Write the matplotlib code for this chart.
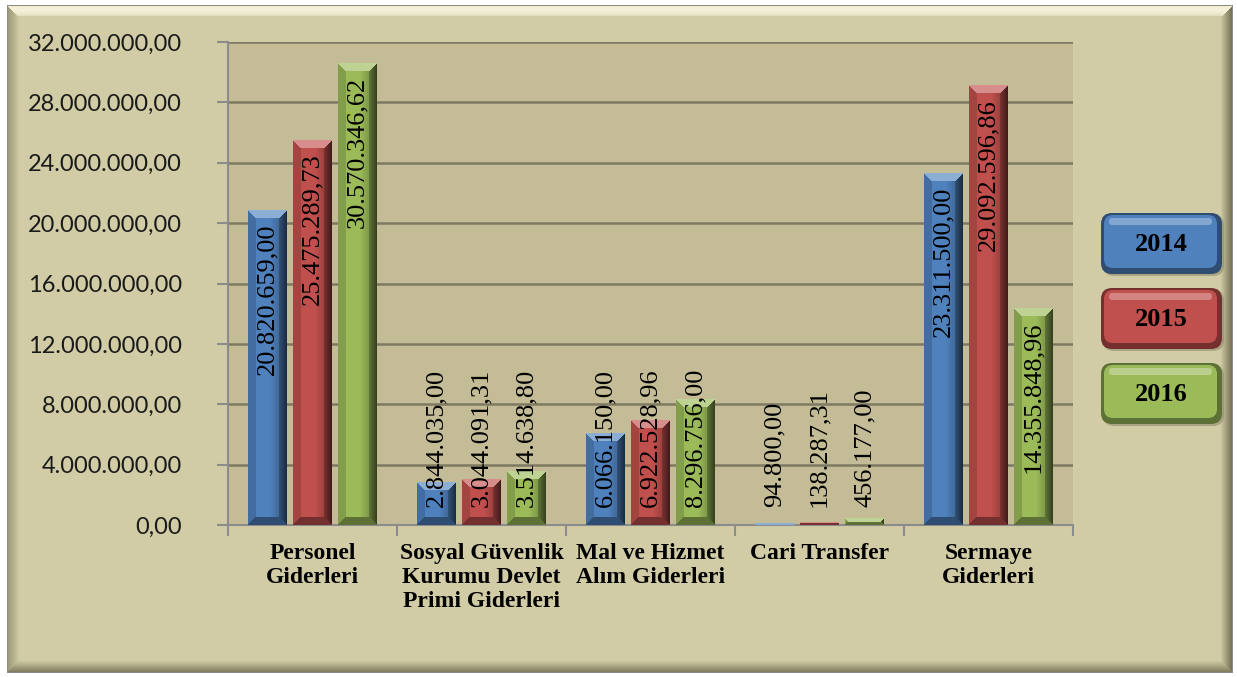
import numpy as np
import matplotlib.pyplot as plt
from matplotlib.patches import FancyBboxPatch
from matplotlib.transforms import IdentityTransform
from matplotlib.colors import to_rgb

categories = ['Personel\nGiderleri', 'Sosyal Güvenlik\nKurumu Devlet\nPrimi Giderleri',
              'Mal ve Hizmet\nAlım Giderleri', 'Cari Transfer', 'Sermaye\nGiderleri']
years = ['2014', '2015', '2016']
v2014 = [20820659.00, 2844035.00, 6066150.00, 94800.00, 23311500.00]
v2015 = [25475289.73, 3044091.31, 6922528.96, 138287.31, 29092596.86]
v2016 = [30570346.62, 3514638.80, 8296756.00, 456177.00, 14355848.96]
colors = ['#4F81BD', '#C0504D', '#9BBB59']

W, H = 1237, 677
YMAX = 32e6


def tr_fmt(v):
    s = f'{v:,.2f}'
    return s.replace(',', 'X').replace('.', ',').replace('X', '.')


def facets(w, h):
    ii, jj = np.mgrid[0:h, 0:w]
    d = np.stack([ii, h - 1 - ii, jj, w - 1 - jj])
    return ii, jj, d.min(axis=0), d.argmin(axis=0)


def bevel_img(color, w, h, b=8):
    # bar face with simple bevel facets
    base = np.array(to_rgb(color))
    h = max(h, 1)
    ii, jj, m, facet = facets(w, h)
    img = np.tile(base, (h, w, 1))
    ramp = np.clip((jj / w - 0.55) / 0.45, 0, 1) * 0.35
    img = img * (1 - ramp[..., None])
    edge = m < b
    top = edge & (facet == 0)
    bot = edge & (facet == 1)
    lef = edge & (facet == 2)
    rig = edge & (facet == 3)
    img[top] = base + (1 - base) * 0.35
    img[bot] = base * 0.6
    img[lef] = base * 0.85
    img[rig] = (base * (0.35 + 0.3 * (m[..., None] / b)))[rig]
    return np.clip(img, 0, 1)


def frame_img(w, h, b=12):
    # beveled background panel
    base = np.array(to_rgb('#D1CCA5'))
    ii, jj, m, facet = facets(w, h)
    img = np.tile(base, (h, w, 1))
    t = np.clip(m / b, 0, 1)[..., None]
    tops = np.array(to_rgb('#F4F1D8'))
    left = np.array(to_rgb('#9A9678'))
    right = np.array(to_rgb('#6F6B53'))
    bott = np.array(to_rgb('#7C785C'))
    edge = m < b
    for k, c in enumerate([tops, bott, left, right]):
        sel = edge & (facet == k)
        if k == 0:
            prof = np.sin(np.pi * (0.25 + 0.75 * t)) ** 0.7
            mix = c * prof + base * (1 - prof)
            mix = np.where(t > 0.85, base, mix)
        else:
            mix = c * (1 - t) + base * t
        img[sel] = mix[sel]
    img[m == 0] = to_rgb('#8A8A8A')
    return np.clip(img, 0, 1)


fig = plt.figure(figsize=(W / 100, H / 100), dpi=100)
fig.patch.set_facecolor('white')

fx0, fy0, fx1, fy1 = 7, 5, 1233, 673
fig.figimage(frame_img(fx1 - fx0, fy1 - fy0), xo=fx0, yo=H - fy1, origin='upper', zorder=-10)


def P(x, y):
    return (x, H - y)


tr = IdentityTransform()

L, R, T, B = 228, 1073, 42, 525
ax = fig.add_axes([L / W, 1 - B / H, (R - L) / W, (B - T) / H])
ax.set_zorder(1)
ax.set_facecolor('#C4BC96')

x = np.arange(len(categories))
width = 0.23
offsets = [-0.266, 0, 0.266]
px_per_val = (B - T) / YMAX
bar_w_px = int(round(width * (R - L) / 5))

for vals, col, off in zip([v2014, v2015, v2016], colors, offsets):
    bars = ax.bar(x + off, vals, width, color=col, edgecolor='none', zorder=3)
    for rect, v in zip(bars, vals):
        h_px = int(round(v * px_per_val))
        img = bevel_img(col, bar_w_px, h_px)
        ax.imshow(img, extent=(rect.get_x(), rect.get_x() + rect.get_width(), 0, v),
                  aspect='auto', origin='upper', interpolation='nearest', zorder=3.5)
        lab = tr_fmt(v)
        need = (13 + 18 + len(lab) * 11.8) / px_per_val
        if v >= need:
            ax.text(rect.get_x() + rect.get_width() / 2, v - 13 / px_per_val, lab,
                    rotation=90, ha='center', va='top', fontsize=19,
                    family='Liberation Serif', color='black', zorder=5)
        else:
            ax.text(rect.get_x() + rect.get_width() / 2, 18 / px_per_val, lab,
                    rotation=90, ha='center', va='bottom', fontsize=19,
                    family='Liberation Serif', color='black', zorder=5)

ax.set_aspect('auto')
ax.set_xlim(-0.5, 4.5)
ax.set_ylim(0, YMAX)

yt = np.arange(0, YMAX + 1, 4e6)
ax.set_yticks(yt)
ax.set_yticklabels([tr_fmt(v) for v in yt], family='Lato', fontsize=17, color='#1A1A1A')
ax.yaxis.grid(True, color='#7E7962', lw=1.8, zorder=1)
ax.set_axisbelow(True)
ax.tick_params(axis='y', length=8, width=1.5, color='#8C8C8C', pad=25)

ax.set_xticks(x)
ax.set_xticklabels(categories, family='Liberation Serif', fontweight='bold', fontsize=17,
                   linespacing=1.18, va='top')
ax.set_xticks(np.arange(-0.5, 5, 1), minor=True)
ax.tick_params(axis='x', which='major', length=0, pad=13)
ax.tick_params(axis='x', which='minor', length=8, width=1.5, color='#8C8C8C')

for s in ['top', 'right']:
    ax.spines[s].set_visible(False)
for s in ['left', 'bottom']:
    ax.spines[s].set_color('#8C8C8C')
    ax.spines[s].set_linewidth(1.5)

# legend boxes
leg_tops = [213, 288, 363]
for yr, col, yt0 in zip(years, colors, leg_tops):
    base = np.array(to_rgb(col))
    bx, by, bw, bh = 1101, yt0, 121, 61
    fig.patches.append(FancyBboxPatch(P(bx + 2, by + bh + 2), bw, bh, transform=tr,
                                      boxstyle='round,pad=0,rounding_size=11',
                                      facecolor='#8F8A6C', edgecolor='none', alpha=0.6, zorder=1))
    fig.patches.append(FancyBboxPatch(P(bx, by + bh), bw, bh, transform=tr,
                                      boxstyle='round,pad=0,rounding_size=11',
                                      facecolor=base * 0.6, edgecolor='none', zorder=1.1))
    fig.patches.append(FancyBboxPatch(P(bx + 3, by + bh - 6), bw - 8, bh - 8, transform=tr,
                                      boxstyle='round,pad=0,rounding_size=9',
                                      facecolor=base, edgecolor='none', zorder=1.2))
    fig.patches.append(FancyBboxPatch(P(bx + 8, by + 12), bw - 18, 7, transform=tr,
                                      boxstyle='round,pad=0,rounding_size=3',
                                      facecolor=base + (1 - base) * 0.3, edgecolor='none', zorder=1.3))
    fig.text((bx + bw / 2) / W, 1 - (by + bh / 2 + 1) / H, yr, ha='center', va='center',
             family='Liberation Serif', fontweight='bold', fontsize=19, color='black', zorder=2)

fig.savefig('out.png', dpi=100)
